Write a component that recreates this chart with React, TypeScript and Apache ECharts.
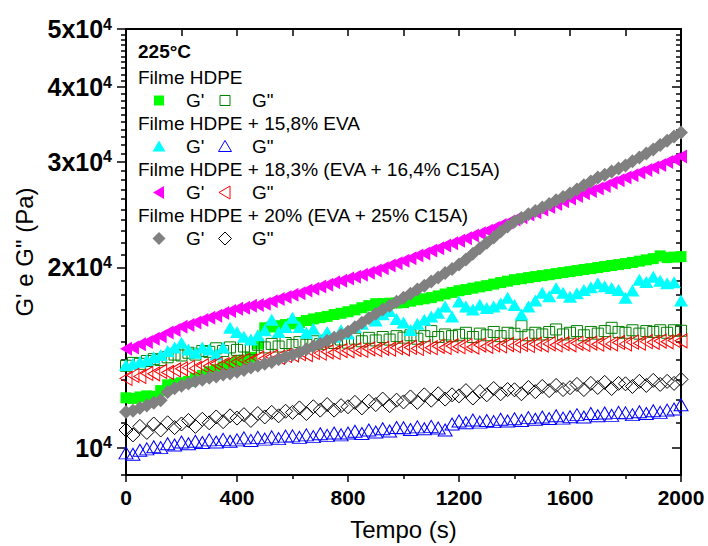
import React, { useEffect, useRef } from "react";
import * as echarts from "echarts";

// ---- Data ----
const TIME = [
  0, 25, 50, 75, 100, 125, 150, 175, 200, 225, 250, 275, 300, 325, 350, 375,
  400, 425, 450, 475, 500, 525, 550, 575, 600, 625, 650, 675, 700, 725, 750, 775,
  800, 825, 850, 875, 900, 925, 950, 975, 1000, 1025, 1050, 1075, 1100, 1125, 1150, 1175,
  1200, 1225, 1250, 1275, 1300, 1325, 1350, 1375, 1400, 1425, 1450, 1475, 1500, 1525, 1550, 1575,
  1600, 1625, 1650, 1675, 1700, 1725, 1750, 1775, 1800, 1825, 1850, 1875, 1900, 1925, 1950, 1975, 2000,
];

// Filme HDPE
const HDPE_G1 = [
  12110, 12080, 12150, 12200, 12180, 12450, 12730, 12780, 12830, 12900, 13050, 13200, 13390, 13500, 13640, 13780,
  13910, 14000, 14150, 14900, 15850, 15900, 15980, 16050, 16100, 16180, 16300, 16400, 16480, 16560, 16680, 16760,
  16860, 16980, 17120, 17260, 17390, 17400, 17420, 17440, 17460, 17560, 17650, 17720, 17800, 17920, 18050, 18160,
  18280, 18360, 18460, 18550, 18640, 18750, 18860, 18960, 19070, 19140, 19220, 19300, 19370, 19440, 19520, 19600,
  19670, 19750, 19830, 19900, 19980, 20060, 20140, 20210, 20290, 20380, 20480, 20580, 20680, 20900, 20760, 20800, 20840,
];
const HDPE_G2 = [
  13700, 13850, 13800, 13950, 14050, 14000, 14150, 14300, 14250, 14400, 14300, 14500, 14450, 14650, 14500, 14700,
  14560, 14750, 14600, 14850, 14700, 14900, 14750, 14950, 14840, 15000, 14850, 15050, 14900, 15100, 14950, 15150,
  14970, 15200, 15050, 15250, 15100, 15300, 15150, 15350, 15260, 15400, 15200, 15350, 15650, 15300, 15450, 15350,
  15430, 15550, 15300, 15500, 15400, 15600, 15350, 15550, 15490, 15950, 15400, 15550, 15450, 15600, 15750, 15450,
  15550, 15650, 15400, 15600, 15500, 15650, 15850, 15600, 15550, 15700, 15500, 15650, 15600, 15700, 15550, 15700, 15670,
];
// Filme HDPE + 15,8% EVA
const EVA_G1 = [
  13740, 13800, 13910, 14000, 14150, 14280, 14500, 14700, 14960, 14580, 14400, 14700, 14580, 14300, 14690, 15850,
  15600, 15320, 15150, 15400, 15700, 16350, 15600, 15900, 16480, 15900, 15550, 15800, 15150, 15600, 15320, 15700,
  15500, 15900, 16100, 16500, 16300, 16700, 16900, 16390, 16180, 15720, 16100, 16350, 16550, 16800, 17210, 16550,
  17530, 17200, 17000, 17320, 17100, 17200, 17400, 17800, 17300, 16680, 17200, 17600, 18140, 17900, 18470, 18140,
  17860, 18100, 18330, 18530, 18810, 18600, 18470, 18330, 17800, 18300, 19070, 18900, 19280, 19000, 18810, 18880, 17600,
];
const EVA_G2 = [
  9800, 9750, 9900, 9950, 10030, 10000, 10150, 10100, 10220, 10150, 10250, 10200, 10300, 10220, 10320, 10250,
  10300, 10380, 10280, 10400, 10330, 10420, 10350, 10450, 10460, 10400, 10500, 10430, 10550, 10480, 10580, 10500,
  10580, 10650, 10560, 10700, 10620, 10750, 10660, 10800, 10790, 10720, 10830, 10750, 10850, 10780, 10700, 10950,
  11080, 11000, 11120, 11030, 11100, 11050, 11150, 11080, 11170, 11100, 11220, 11150, 11250, 11180, 11300, 11200,
  11260, 11350, 11250, 11400, 11300, 11420, 11320, 11450, 11430, 11350, 11480, 11400, 11520, 11450, 11550, 11600, 11790,
];
// Filme HDPE + 18,3% (EVA + 16,4% C15A)
const C164_G1 = [
  14620, 14700, 14880, 15010, 15200, 15340, 15560, 15720, 15910, 16020, 16180, 16330, 16480, 16600, 16780, 16900,
  17060, 17120, 17260, 17300, 17390, 17560, 17700, 17850, 18000, 18110, 18300, 18420, 18570, 18700, 18880, 18990,
  19150, 19290, 19440, 19580, 19750, 19930, 20140, 20320, 20520, 20700, 20920, 21100, 21330, 21520, 21750, 21940,
  22160, 22360, 22600, 22790, 23030, 23260, 23540, 23770, 24030, 24240, 24510, 24720, 24970, 25230, 25520, 25780,
  26060, 26300, 26580, 26820, 27080, 27350, 27680, 27950, 28250, 28500, 28800, 29070, 29360, 29640, 29980, 30290, 30630,
];
const C164_G2 = [
  13050, 13200, 13150, 13300, 13280, 13400, 13350, 13480, 13540, 13600, 13560, 13700, 13680, 13800, 13760, 13880,
  13910, 14000, 13950, 14100, 14080, 14180, 14150, 14250, 14290, 14350, 14300, 14420, 14380, 14450, 14420, 14520,
  14510, 14580, 14530, 14620, 14570, 14650, 14600, 14680, 14620, 14700, 14640, 14730, 14680, 14760, 14700, 14780,
  14740, 14800, 14720, 14830, 14760, 14840, 14780, 14860, 14800, 14870, 14810, 14880, 14830, 14900, 14840, 14910,
  14850, 14930, 14870, 14950, 14880, 14960, 14900, 14980, 14900, 15000, 14940, 15030, 14990, 15060, 15020, 15100, 15080,
];
// Filme HDPE + 20% (EVA + 25% C15A)
const C25_G1 = [
  11470, 11520, 11650, 11760, 11880, 12000, 12380, 12560, 12680, 12790, 12900, 12980, 13080, 13150, 13240, 13300,
  13390, 13480, 13600, 13700, 13800, 13900, 14050, 14170, 14290, 14420, 14600, 14750, 14910, 15080, 15260, 15420,
  15610, 15880, 16160, 16450, 16730, 17000, 17260, 17520, 17800, 18060, 18360, 18640, 18930, 19240, 19560, 19880,
  20210, 20620, 21080, 21520, 21990, 22440, 22950, 23400, 23850, 24180, 24520, 24840, 25170, 25520, 25880, 26220,
  26570, 26980, 27420, 27830, 28250, 28560, 28920, 29250, 29590, 30060, 30520, 30990, 31470, 32000, 32550, 33070, 33600,
];
const C25_G2 = [
  10700, 10500, 10850, 10600, 10950, 10700, 11000, 10800, 10950, 11100, 10850, 11150, 11000, 11250, 11050, 11300,
  11200, 11350, 11100, 11400, 11250, 11450, 11300, 11500, 11450, 11650, 11400, 11700, 11550, 11800, 11550, 11750,
  11700, 11900, 11650, 11950, 11800, 12050, 11750, 12000, 11920, 12150, 11900, 12250, 12000, 12300, 12050, 12250,
  12200, 12450, 12100, 12400, 12250, 12550, 12300, 12500, 12490, 12300, 12600, 12400, 12650, 12450, 12700, 12500,
  12590, 12750, 12500, 12800, 12600, 12850, 12550, 12800, 12780, 12650, 12900, 12700, 12950, 12750, 12900, 12800, 13000,
];

// ---- Axes ----
const X_MIN = 0;
const X_MAX = 2000;
const X_INTERVAL = 400;
const Y_MIN = 9000;
const Y_MAX = 50000;
const Y_TICKS = [10000, 20000, 30000, 40000, 50000];
const Y_TICK_MANTISSA = ["10", "2x10", "3x10", "4x10", "5x10"];
const Y_TICK_EXPONENT = "4";
const Y_MINOR = [
  9000, 11000, 12000, 13000, 14000, 15000, 16000, 17000, 18000, 19000,
  21000, 22000, 23000, 24000, 25000, 26000, 27000, 28000, 29000,
  31000, 32000, 33000, 34000, 35000, 36000, 37000, 38000, 39000,
  41000, 42000, 43000, 44000, 45000, 46000, 47000, 48000, 49000,
];

const TITLE = "225°C";
const GROUPS = [
  "Filme HDPE",
  "Filme HDPE + 15,8% EVA",
  "Filme HDPE + 18,3% (EVA + 16,4% C15A)",
  "Filme HDPE + 20% (EVA + 25% C15A)",
];

const FF = '"Liberation Sans", Arial, Helvetica, sans-serif';

export default function App() {
  const ref = useRef<HTMLDivElement>(null);

  useEffect(() => {
    if (!ref.current) return;
    const chart = echarts.init(ref.current, undefined, { renderer: "svg" });
    const lg = (v: number) => Math.log10(v);
    const pts = (vals: number[]) => TIME.map((t, i) => [t, lg(vals[i])]);

    const filled = (name: string, vals: number[], symbol: string, size: any, color: string, rotate = 0) => ({
      type: "scatter",
      name,
      data: pts(vals),
      symbol,
      symbolSize: size,
      symbolRotate: rotate,
      silent: true,
      itemStyle: { color, opacity: 1 },
    });
    const open = (name: string, vals: number[], symbol: string, size: any, color: string, rotate = 0) => ({
      type: "scatter",
      name,
      data: pts(vals),
      symbol,
      symbolSize: size,
      symbolRotate: rotate,
      silent: true,
      itemStyle: { color: "rgba(0,0,0,0)", borderColor: color, borderWidth: 1, opacity: 1 },
    });

    const lineStyle = { color: "#000", width: 2 };
    const tickStyle = { color: "#000", width: 1.5 };
    const yMin = lg(Y_MIN);
    const yMax = lg(Y_MAX);
    const majorVals = Y_TICKS.map(lg);
    const minorVals = Y_MINOR.map(lg);

    const baseY = {
      type: "value",
      min: yMin,
      max: yMax,
      splitLine: { show: false },
      axisLabel: { show: false },
    };

    const G1_C = "#00ff00", G2_C = "#008000";
    const legendMarkers: any[] = [];
    const rowY = [100.5, 146.5, 192.5, 238.5];
    const xa = 159, xb = 225;
    legendMarkers.push({ type: "rect", shape: { x: xa - 5, y: rowY[0] - 5, width: 10, height: 10 }, style: { fill: G1_C } });
    legendMarkers.push({ type: "rect", shape: { x: xb - 5, y: rowY[0] - 5, width: 10, height: 10 }, style: { fill: "none", stroke: G2_C, lineWidth: 1 } });
    const tri = (cx: number, cy: number) => [[cx, cy - 6], [cx + 6.5, cy + 5], [cx - 6.5, cy + 5]];
    legendMarkers.push({ type: "polygon", shape: { points: tri(xa, rowY[1]) }, style: { fill: "#00ffff" } });
    legendMarkers.push({ type: "polygon", shape: { points: tri(xb, rowY[1]) }, style: { fill: "none", stroke: "#0000ff", lineWidth: 1 } });
    const ltri = (cx: number, cy: number) => [[cx - 6, cy], [cx + 5, cy - 6.5], [cx + 5, cy + 6.5]];
    legendMarkers.push({ type: "polygon", shape: { points: ltri(xa, rowY[2]) }, style: { fill: "#ff00ff" } });
    legendMarkers.push({ type: "polygon", shape: { points: ltri(xb, rowY[2]) }, style: { fill: "none", stroke: "#ff0000", lineWidth: 1 } });
    const dia = (cx: number, cy: number) => [[cx, cy - 6.5], [cx + 6.5, cy], [cx, cy + 6.5], [cx - 6.5, cy]];
    legendMarkers.push({ type: "polygon", shape: { points: dia(xa, rowY[3]) }, style: { fill: "#808080" } });
    legendMarkers.push({ type: "polygon", shape: { points: dia(xb, rowY[3]) }, style: { fill: "none", stroke: "#000", lineWidth: 1 } });

    const txt = (text: string, x: number, y: number, bold = false) => ({
      type: "text",
      x,
      y,
      style: {
        text,
        fill: "#000",
        fontSize: 19,
        fontWeight: bold ? "bold" : "normal",
        fontFamily: FF,
        verticalAlign: "middle",
        align: "left",
      },
    });
    const groupY = [77, 123.5, 169.5, 215.5];
    const texts: any[] = [txt(TITLE, 138, 51.5, true)];
    GROUPS.forEach((g, i) => {
      texts.push(txt(g, 138, groupY[i]));
      texts.push(txt("G'", 186, rowY[i]));
      texts.push(txt('G"', 252, rowY[i]));
    });

    chart.setOption({
      animation: false,
      backgroundColor: "#fff",
      grid: { left: 126, right: 27, top: 29, bottom: 70, containLabel: false },
      xAxis: [
        {
          type: "value",
          position: "bottom",
          min: X_MIN,
          max: X_MAX,
          interval: X_INTERVAL,
          axisLine: { show: true, lineStyle },
          axisTick: { show: true, inside: false, length: 7, lineStyle: tickStyle },
          minorTick: { show: true, splitNumber: 2, length: 4, lineStyle: tickStyle },
          splitLine: { show: false },
          minorSplitLine: { show: false },
          axisLabel: {
            margin: 12,
            fontSize: 21,
            fontWeight: "bold",
            fontFamily: FF,
            color: "#000",
            formatter: (v: number) => String(v),
          },
          name: "Tempo (s)",
          nameLocation: "middle",
          nameGap: 42,
          nameTextStyle: { fontSize: 24, fontFamily: FF, color: "#000" },
        },
        {
          type: "value",
          position: "top",
          min: X_MIN,
          max: X_MAX,
          interval: X_INTERVAL / 2,
          axisLine: { show: true, lineStyle },
          axisTick: { show: true, inside: true, length: 7, lineStyle: tickStyle },
          splitLine: { show: false },
          axisLabel: { show: false },
        },
      ],
      yAxis: [
        {
          ...baseY,
          position: "left",
          axisLine: { show: true, lineStyle },
          axisTick: { show: true, inside: false, length: 9, lineStyle: tickStyle, customValues: majorVals },
          axisLabel: {
            show: true,
            margin: 14,
            customValues: majorVals,
            formatter: (v: number) => {
              const val = Math.round(Math.pow(10, v));
              const idx = Y_TICKS.indexOf(val);
              const m = idx >= 0 ? Y_TICK_MANTISSA[idx] : String(val);
              return "{b|" + m + "}{s|" + Y_TICK_EXPONENT + "}";
            },
            rich: {
              b: { fontSize: 25, fontWeight: "bold", fontFamily: FF, color: "#000", lineHeight: 26 },
              s: { fontSize: 16, fontWeight: "bold", fontFamily: FF, color: "#000", lineHeight: 10, verticalAlign: "top" },
            },
          },
          name: 'G\' e G" (Pa)',
          nameLocation: "middle",
          nameGap: 89,
          nameTextStyle: { fontSize: 24, fontFamily: FF, color: "#000" },
        },
        {
          ...baseY,
          position: "left",
          axisLine: { show: false },
          axisTick: { show: true, inside: false, length: 5, lineStyle: tickStyle, customValues: minorVals },
        },
        {
          ...baseY,
          position: "right",
          axisLine: { show: true, lineStyle },
          axisTick: { show: true, inside: true, length: 9, lineStyle: tickStyle, customValues: majorVals },
        },
        {
          ...baseY,
          position: "right",
          axisLine: { show: false },
          axisTick: { show: true, inside: true, length: 5, lineStyle: tickStyle, customValues: minorVals },
        },
      ],
      series: [
        filled(GROUPS[0] + " G'", HDPE_G1, "rect", 11, G1_C),
        open(GROUPS[0] + ' G"', HDPE_G2, "rect", 11, G2_C),
        filled(GROUPS[1] + " G'", EVA_G1, "triangle", [14, 12], "#00ffff"),
        open(GROUPS[1] + ' G"', EVA_G2, "triangle", [14, 12], "#0000ff"),
        filled(GROUPS[2] + " G'", C164_G1, "triangle", [14, 12], "#ff00ff", 90),
        open(GROUPS[2] + ' G"', C164_G2, "triangle", [14, 12], "#ff0000", 90),
        filled(GROUPS[3] + " G'", C25_G1, "diamond", 14, "#808080"),
        open(GROUPS[3] + ' G"', C25_G2, "diamond", 14, "#000000"),
      ],
      graphic: [...legendMarkers, ...texts],
    });

    return () => chart.dispose();
  }, []);

  return (
    <div
      ref={ref}
      style={{ position: "fixed", left: 0, top: 0, width: 708, height: 546, background: "#fff" }}
    />
  );
}
